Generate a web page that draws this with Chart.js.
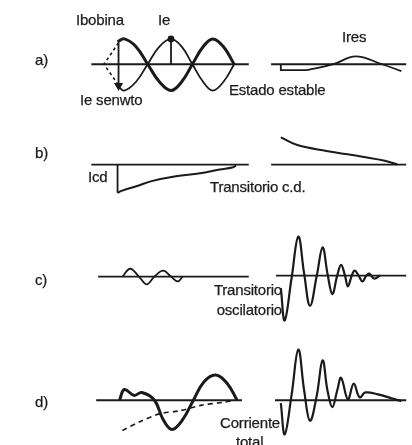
<!DOCTYPE html>
<html>
<head>
<meta charset="utf-8">
<script src="https://cdn.jsdelivr.net/npm/chart.js@4"></script>
<style>
  body { margin: 0; background: #fff; }
  #wrap { position: relative; width: 412px; height: 445px; overflow: hidden; }
  canvas { position: absolute; left: 0; top: 0; }
  .lbl { position: absolute; font: 15px "Liberation Sans", Arial, sans-serif; color: #1c1c1c; line-height: 16px; white-space: nowrap; letter-spacing: -0.2px; -webkit-text-stroke: 0.25px #1c1c1c; }
  .r { text-align: right; }
</style>
</head>
<body>
<div id="wrap">
  <canvas id="c" width="412" height="445"></canvas>
  <div class="lbl" style="left:35px;top:52px">a)</div>
  <div class="lbl" style="left:76px;top:12px">Ibobina</div>
  <div class="lbl" style="left:158px;top:12px">Ie</div>
  <div class="lbl" style="left:80px;top:92px">Ie senwto</div>
  <div class="lbl" style="left:229px;top:82px">Estado estable</div>
  <div class="lbl" style="left:342px;top:29px">Ires</div>
  <div class="lbl" style="left:35px;top:145px">b)</div>
  <div class="lbl" style="left:88px;top:169px">Icd</div>
  <div class="lbl" style="left:210px;top:179px">Transitorio c.d.</div>
  <div class="lbl" style="left:35px;top:272px">c)</div>
  <div class="lbl r" style="right:130px;top:282px">Transitorio</div>
  <div class="lbl r" style="right:130px;top:302px">oscilatorio</div>
  <div class="lbl" style="left:35px;top:394px">d)</div>
  <div class="lbl r" style="right:132px;top:415px">Corriente</div>
  <div class="lbl" style="left:236px;top:434px">total</div>
</div>
<script>

// a) estado estable
const axisAx = [88, 250], axisAy = [60, 60];
const axisA2x = [273, 412], axisA2y = [60, 60];
const bobinaX = [115, 122, 134, 146, 158, 170, 181, 192, 203, 213, 224, 235];
const bobinaY = [37, 34, 42, 60, 78, 87, 78, 60, 42, 34, 42, 60];
const senwtoX = [115, 122, 134, 146, 158, 170, 181, 192, 203, 213, 224, 235];
const senwtoY = [82, 87, 78, 60, 42, 34, 42, 60, 78, 87, 78, 60];
const dashAx = [116, 101, 115], dashAy = [38, 60, 80];
const arrowX = [116, 116], arrowY = [38, 82];
const ieX = [170, 170], ieY = [60, 34];
const resStepX = [283, 283, 310], resStepY = [60, 66, 66];
const resX = [310, 337, 360, 387, 407];
const resY = [66, 60, 52, 60, 67];

// b) transitorio c.d.
const axisBx = [88, 250], axisBy = [163, 163];
const axisB2x = [273, 412], axisB2y = [163, 163];
const icdStepX = [115, 115], icdStepY = [163, 192];
const icdX = [115, 119, 135, 150, 175, 200, 220, 233, 237];
const icdY = [192, 190, 185, 180, 175, 172, 168, 166, 164];
const decayX = [283, 300, 330, 367, 390, 403];
const decayY = [135, 143, 149, 155, 159, 163];

// c) transitorio oscilatorio
const axisCx = [95, 250], axisCy = [278, 278];
const axisC2x = [278, 412], axisC2y = [277, 277];
const smallX = [120, 128, 137, 145, 153, 162, 170, 177, 182];
const smallY = [278, 270, 278, 286, 278, 272, 278, 283, 278];
const oscX = [283, 287, 294, 301, 307, 313, 320, 326, 331, 336, 341, 345, 349, 352, 356, 359, 363, 367, 371, 374, 379, 385];
const oscY = [290, 323, 280, 237, 275, 308, 277, 248, 275, 296, 277, 266, 277, 288, 277, 272, 277, 283, 277, 275, 280, 277];

// d) corriente total
const axisDx = [93, 243], axisDy = [405, 405];
const axisD2x = [277, 412], axisD2y = [405, 405];
const totalX = [117, 122, 132, 140, 153, 162, 171, 182, 193, 204, 216, 228, 238];
const totalY = [405, 394, 400, 397, 405, 425, 435, 425, 405, 386, 379, 388, 405];
const dashDx = [120, 138, 158, 178, 202, 225, 235];
const dashDy = [436, 427, 419, 416, 410, 407, 405];
const total2X = [283, 287, 294, 301, 307, 313, 320, 326, 331, 336, 341, 345, 352, 358, 364, 370, 383, 397, 407];
const total2Y = [408, 440, 400, 353, 395, 426, 400, 364, 395, 412, 395, 382, 404, 388, 402, 397, 399, 403, 406];

const ink = '#1a1a1a';

function line(xs, ys, opts) {
  return Object.assign({
    data: xs.map((x, i) => ({ x: x, y: ys[i] })),
    showLine: true,
    borderColor: ink,
    backgroundColor: ink,
    borderWidth: 1.8,
    pointRadius: 0,
    tension: 0,
    clip: false
  }, opts || {});
}

const smooth = { tension: 0.4, borderWidth: 2 };

new Chart(document.getElementById('c'), {
  type: 'scatter',
  data: {
    datasets: [
      line(axisAx, axisAy), line(axisA2x, axisA2y),
      line(bobinaX, bobinaY, { tension: 0.4, borderWidth: 3 }),
      line(senwtoX, senwtoY, { tension: 0.4, borderWidth: 1.8 }),
      line(dashAx, dashAy, { borderDash: [3, 3], borderWidth: 1.6 }),
      line(arrowX, arrowY, {
        borderWidth: 1.8,
        pointRadius: [0, 3.5],
        pointStyle: 'triangle',
        rotation: 180
      }),
      line(ieX, ieY, { borderWidth: 1.8, pointRadius: [0, 2.5] }),
      line(resStepX, resStepY),
      line(resX, resY, { tension: 0.4, borderWidth: 1.8 }),

      line(axisBx, axisBy), line(axisB2x, axisB2y),
      line(icdStepX, icdStepY),
      line(icdX, icdY, smooth),
      line(decayX, decayY, smooth),

      line(axisCx, axisCy), line(axisC2x, axisC2y),
      line(smallX, smallY, { tension: 0.4, borderWidth: 1.8 }),
      line(oscX, oscY, { tension: 0.4, borderWidth: 2.2 }),

      line(axisDx, axisDy), line(axisD2x, axisD2y),
      line(totalX, totalY, { tension: 0.4, borderWidth: 3 }),
      line(dashDx, dashDy, { tension: 0.3, borderDash: [5, 4], borderWidth: 1.6 }),
      line(total2X, total2Y, { tension: 0.4, borderWidth: 2.2 })
    ]
  },
  options: {
    responsive: false,
    animation: false,
    events: [],
    layout: { padding: 0 },
    plugins: { legend: { display: false }, tooltip: { enabled: false } },
    scales: {
      x: { type: 'linear', min: 0, max: 412, display: false },
      y: { type: 'linear', min: 0, max: 445, reverse: true, display: false }
    }
  }
});
</script>
</body>
</html>
